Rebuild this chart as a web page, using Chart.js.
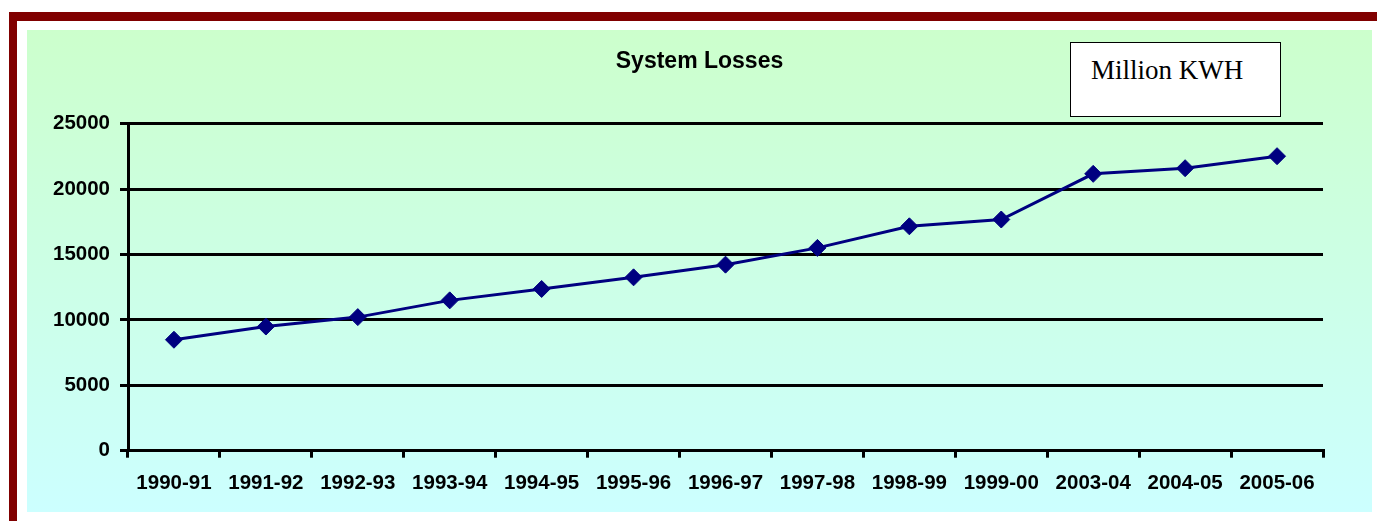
<!DOCTYPE html>
<html>
<head>
<meta charset="utf-8">
<script src="https://cdn.jsdelivr.net/npm/chart.js@4"></script>
<style>
  body { margin: 0; width: 1377px; height: 521px; overflow: hidden; background: #fff; position: relative; }
  .frame {
    position: absolute; left: 9px; top: 12px; right: -20px; bottom: -20px;
    border-left: 8px solid #800000; border-top: 9px solid #800000;
  }
  .plot {
    position: absolute; left: 27px; top: 30px; width: 1345px; height: 482px;
    background: linear-gradient(#ccffcc, #ccffff);
  }
  .unit {
    position: absolute; left: 1070px; top: 42px; width: 209px; height: 73px;
    border: 1.5px solid #000; background: #fff;
    font-family: "Liberation Serif", "Times New Roman", serif; font-size: 27px;
    line-height: 27px; box-sizing: content-box;
  }
  .unit span { position: absolute; left: 20px; top: 14px; }
</style>
</head>
<body>
<div class="frame"></div>
<div class="plot"><canvas id="chart" width="1345" height="482"></canvas></div>
<div class="unit"><span>Million KWH</span></div>
<script>
const categories = ['1990-91', '1991-92', '1992-93', '1993-94', '1994-95', '1995-96', '1996-97',
  '1997-98', '1998-99', '1999-00', '2003-04', '2004-05', '2005-06'];
const losses = [8480, 9490, 10210, 11490, 12360, 13250, 14220, 15500, 17150, 17670, 21160, 21590, 22510];
const yTicks = [0, 5000, 10000, 15000, 20000, 25000];

const FONT = '"Liberation Sans", Arial, sans-serif';
const navy = '#000080';
const tickFont = { family: FONT, size: 20.5, weight: 'bold' };

new Chart(document.getElementById('chart'), {
  type: 'line',
  data: {
    labels: categories,
    datasets: [{
      label: 'System Losses',
      data: losses,
      borderColor: navy,
      backgroundColor: navy,
      borderWidth: 3,
      pointStyle: 'rectRot',
      pointRadius: 8.5,
      pointBorderWidth: 1,
      tension: 0
    }]
  },
  options: {
    responsive: false,
    animation: false,
    layout: { padding: 0 },
    plugins: {
      legend: { display: false },
      tooltip: { enabled: false },
      title: {
        display: true,
        text: 'System Losses',
        color: '#000',
        font: { family: FONT, size: 23, weight: 'bold' },
        padding: { top: 18, bottom: 48 }
      }
    },
    scales: {
      x: {
        offset: true,
        grid: { offset: true, drawOnChartArea: false, color: '#000', lineWidth: 3, tickLength: 7 },
        border: { color: '#000', width: 3 },
        ticks: { color: '#000', padding: 13, maxRotation: 0, autoSkip: false, font: tickFont },
        afterFit: s => { s.height = 61.3; }
      },
      y: {
        min: yTicks[0],
        max: yTicks[yTicks.length - 1],
        afterBuildTicks: s => { s.ticks = yTicks.map(v => ({ value: v })); },
        grid: { color: '#000', lineWidth: 3, tickLength: 8 },
        border: { color: '#000', width: 3 },
        ticks: { color: '#000', padding: 10, callback: v => String(v), font: tickFont },
        afterFit: s => { s.width = 101; }
      },
      // empty right-hand spacer, so the plot ends short of the panel
      // while the title stays centred on the whole panel
      spacer: {
        type: 'linear',
        position: 'right',
        grid: { display: false, drawTicks: false },
        border: { display: false },
        ticks: { display: false },
        afterFit: s => { s.width = 49; }
      }
    }
  }
});
</script>
</body>
</html>
